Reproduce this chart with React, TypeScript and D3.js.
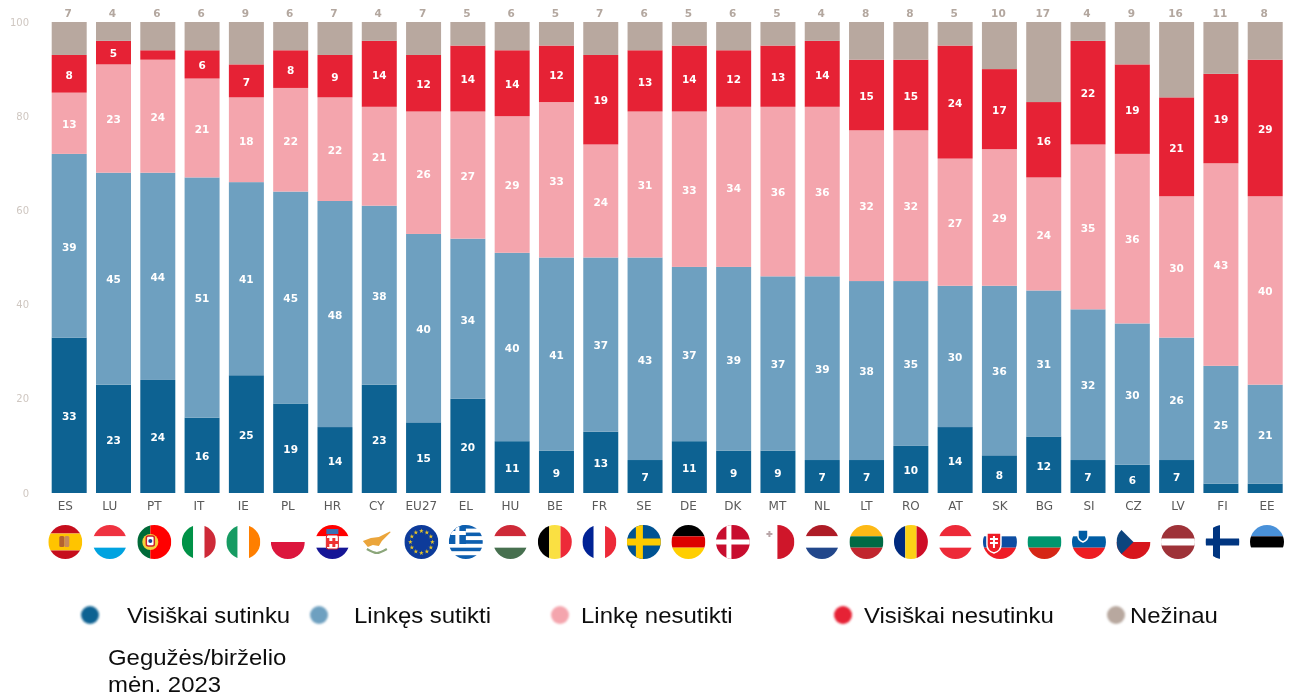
import React from "react";
import * as d3 from "d3";

const categories = ["ES","LU","PT","IT","IE","PL","HR","CY","EU27","EL","HU","BE","FR","SE","DE","DK","MT","NL","LT","RO","AT","SK","BG","SI","CZ","LV","FI","EE"];
const stronglyAgree = [33,23,24,16,25,19,14,23,15,20,11,9,13,7,11,9,9,7,7,10,14,8,12,7,6,7,2,2];
const tendAgree = [39,45,44,51,41,45,48,38,40,34,40,41,37,43,37,39,37,39,38,35,30,36,31,32,30,26,25,21];
const tendDisagree = [13,23,24,21,18,22,22,21,26,27,29,33,24,31,33,34,36,36,32,32,27,29,24,35,36,30,43,40];
const stronglyDisagree = [8,5,2,6,7,8,9,14,12,14,14,12,19,13,14,12,13,14,15,15,24,17,16,22,19,21,19,29];
const dontKnow = [7,4,6,6,9,6,7,4,7,5,6,5,7,6,5,6,5,4,8,8,5,10,17,4,9,16,11,8];
const seriesValues = [stronglyAgree, tendAgree, tendDisagree, stronglyDisagree, dontKnow];
const seriesColors = ["#0e6292","#6ea0c0","#f4a5ad","#e62134","#b8a89f"];
const legendLabels = ["Visiškai sutinku","Linkęs sutikti","Linkę nesutikti","Visiškai nesutinku","Nežinau"];
const legendDotX = [90,319,560,843,1116];
const legendTextX = [127,354,581,864,1130];
const yTicks = [0,20,40,60,80,100];
const noteLines = ["Gegužės/birželio","mėn. 2023"];

const hStripes: Record<string,string[]> = {
  LU:["#ef3340","#fff","#00a3e0"], HR:["#ff0000","#fff","#171796"], HU:["#ce2939","#fff","#477050"],
  DE:["#000","#dd0000","#ffce00"], NL:["#ae1c28","#fff","#21468b"], LT:["#fdb913","#006a44","#c1272d"],
  AT:["#ed2939","#fff","#ed2939"], SK:["#fff","#0b4ea2","#ee1c25"], BG:["#fff","#00966e","#d62612"],
  SI:["#fff","#005da4","#ed1c24"], EE:["#4891d9","#000","#fff"], PL:["#fff","#dc143c"], CZ:["#fff","#d7141a"],
  ES:["#c60b1e","#ffc400","#ffc400","#c60b1e"],
};
const vStripes: Record<string,string[]> = {
  IT:["#009246","#fff","#ce2b37"], IE:["#169b62","#fff","#ff7f00"], BE:["#000","#fae042","#ed2939"],
  FR:["#002395","#fff","#ed2939"], RO:["#002b7f","#fcd116","#ce1126"], MT:["#fff","#cf142b"],
};
const R = 17;

function Stripes({ colors, vertical }: { colors: string[]; vertical?: boolean }) {
  const s = d3.scaleBand<number>().domain(d3.range(colors.length)).range([-R, R]);
  return <>{colors.map((c, i) => vertical
    ? <rect key={i} x={s(i)} y={-R} width={s.bandwidth()} height={2*R} fill={c} />
    : <rect key={i} x={-R} y={s(i)} width={2*R} height={s.bandwidth()} fill={c} />)}</>;
}

function FlagArt({ code }: { code: string }) {
  if (code === "LV") return <><rect x={-R} y={-R} width={34} height={34} fill="#9e3039"/><rect x={-R} y={-3.5} width={34} height={7} fill="#fff"/></>;
  if (code === "PT") return <><rect x={-R} y={-R} width={13} height={34} fill="#046a38"/><rect x={-4} y={-R} width={21} height={34} fill="#ff0000"/><circle cx={-4} r={8} fill="#f6d13a"/><rect x={-8} y={-6} width={8} height={10} rx={2} fill="#fff" stroke="#d0202c" strokeWidth={1.5}/><circle cx={-4} cy={-1} r={2} fill="#1d3f94"/></>;
  if (code === "CY") return <><rect x={-R} y={-R} width={34} height={34} fill="#fff"/><path d="M-14,-1 L-6,-4 L2,-5 L8,-8 L16,-12 L9,-5 L5,-1 L2,4 L-4,3 L-9,5 Z" fill="#eba53a"/><path d="M-10,7 Q-3,11 0,11 M10,7 Q3,11 0,11" fill="none" stroke="#8ba67a" strokeWidth={2.2}/></>;
  if (code === "EU27") {
    const star = d3.symbol(d3.symbolStar, 7)() as string;
    return <><rect x={-R} y={-R} width={34} height={34} fill="#0a3a9a"/>{d3.range(12).map(i => <path key={i} d={star} fill="#e8c528" transform={`translate(${11*Math.cos(i*Math.PI/6)},${11*Math.sin(i*Math.PI/6)})`}/>)}</>;
  }
  if (code === "EL") return <><Stripes colors={["#0d5eaf","#fff","#0d5eaf","#fff","#0d5eaf","#fff","#0d5eaf","#fff","#0d5eaf"]}/><rect x={-R} y={-R} width={17} height={19} fill="#0d5eaf"/><rect x={-R} y={-11} width={17} height={4} fill="#fff"/><rect x={-10.5} y={-R} width={4} height={19} fill="#fff"/></>;
  if (code === "SE") return <><rect x={-R} y={-R} width={34} height={34} fill="#005293"/><rect x={-R} y={-3.5} width={34} height={7} fill="#fecb00"/><rect x={-8} y={-R} width={7} height={34} fill="#fecb00"/></>;
  if (code === "DK") return <><rect x={-R} y={-R} width={34} height={34} fill="#c8102e"/><rect x={-R} y={-2.5} width={34} height={5} fill="#fff"/><rect x={-6.5} y={-R} width={5} height={34} fill="#fff"/></>;
  if (code === "FI") return <><rect x={-R} y={-R} width={34} height={34} fill="#fff"/><rect x={-R} y={-3.5} width={34} height={7} fill="#003580"/><rect x={-9.5} y={-R} width={7} height={34} fill="#003580"/></>;
  if (hStripes[code]) {
    return <>
      <Stripes colors={hStripes[code]} />
      {code === "ES" && <><rect x={-6} y={-6} width={5} height={11} rx={1.5} fill="#b5622e"/><rect x={-1} y={-6} width={5} height={11} rx={1.5} fill="#c98a5a"/></>}
      {code === "HR" && <><rect x={-6} y={-13} width={12} height={5} fill="#3b6fb5"/><rect x={-6} y={-7} width={12} height={14} rx={2} fill="#fff" stroke="#d8202c"/><path d="M-6,-4H-3V-1H0V-4H3V-1H6V2H3V5H0V2H-3V5H-6Z" fill="#e33"/></>}
      {code === "SK" && <><path d="M-13,-9H1V3Q1,9 -6,11Q-13,9 -13,3Z" fill="#ee1c25" stroke="#fff" strokeWidth={1.5}/><path d="M-7,-6H-5V-4H-2V-2H-5V0H-2V2H-5V6H-7V2H-10V0H-7V-2H-10V-4H-7Z" fill="#fff"/></>}
      {code === "SI" && <><path d="M-11,-12H-1V-6Q-1,-2 -6,0Q-11,-2 -11,-6Z" fill="#005da4" stroke="#fff" strokeWidth={1.5}/></>}
      {code === "CZ" && <path d="M-17,-17L0,0L-17,17Z" fill="#11457e"/>}
    </>;
  }
  if (vStripes[code]) return <>
    <Stripes colors={vStripes[code]} vertical />
    {code === "MT" && <path d="M-11,-9H-9V-11H-7V-9H-5V-7H-7V-5H-9V-7H-11Z" fill="#b9a6a8"/>}
  </>;
  return null;
}

export default function App() {
  const x = d3.scaleBand<string>().domain(categories).range([51.7, 1282.7]).paddingInner(0.21).paddingOuter(0);
  const y = d3.scaleLinear().domain([0, 100]).range([493, 22]);
  const flagX = d3.scalePoint<string>().domain(categories).range([65.3, 1267]);
  const rows = categories.map((c, i) => {
    const r: any = { c };
    seriesValues.forEach((s, k) => { r[k] = s[i]; });
    return r;
  });
  const stack = d3.stack<any>().keys(d3.range(5).map(String))(rows);
  const sans = "'DejaVu Sans', sans-serif";
  const arial = "'Liberation Sans', Arial, sans-serif";
  return (
    <svg width={1290} height={697} style={{ position: "absolute", left: 0, top: 0, background: "#fff" }}>
      <defs>
        <filter id="soft" x="-2%" y="-2%" width="104%" height="104%"><feGaussianBlur stdDeviation={0.65} /></filter>
        <filter id="softer" x="-20%" y="-20%" width="140%" height="140%"><feGaussianBlur stdDeviation={1} /></filter>
        <filter id="faint" x="-2%" y="-2%" width="104%" height="104%"><feGaussianBlur stdDeviation={0.3} /></filter>
        <clipPath id="disc"><circle r={R} /></clipPath>
      </defs>
      <g filter="url(#soft)">
        {yTicks.map(t => (
          <text key={t} x={29} y={y(t)} dy="0.35em" textAnchor="end" fontFamily={sans} fontSize={10} fill="#cfc7c1">{t}</text>
        ))}
        {stack.map((layer, k) => (
          <g key={k}>
            {layer.map((d, i) => (
              <rect key={i} x={x(categories[i])} y={y(d[1])} width={x.bandwidth()} height={y(d[0]) - y(d[1])} fill={seriesColors[k]} />
            ))}
          </g>
        ))}
        {stack.slice(0, 4).map((layer, k) => (
          <g key={k}>
            {layer.map((d, i) => seriesValues[k][i] >= 3 ? (
              <text key={i} x={x(categories[i])! + x.bandwidth() / 2} y={y((d[0] + d[1]) / 2) + 1} dy="0.36em" textAnchor="middle"
                fontFamily={sans} fontWeight={700} fontSize={10.5} fill="#fff">{seriesValues[k][i]}</text>
            ) : null)}
          </g>
        ))}
        {categories.map((c, i) => (
          <text key={c} x={x(c)! + x.bandwidth() / 2 - 1} y={13} dy="0.36em" textAnchor="middle" fontFamily={sans} fontWeight={700} fontSize={10.5} fill="#b3a79f">{dontKnow[i]}</text>
        ))}
        {categories.map(c => (
          <text key={c} x={flagX(c)} y={506} dy="0.36em" textAnchor="middle" fontFamily={sans} fontSize={12} fill="#5a5a5a">{c}</text>
        ))}
        {categories.map(c => (
          <g key={c} transform={`translate(${flagX(c)},542)`}>
            <g clipPath="url(#disc)"><FlagArt code={c} /></g>
          </g>
        ))}
      </g>
      <g filter="url(#softer)">
        {legendDotX.map((cx, i) => <circle key={i} cx={cx} cy={615} r={9} fill={seriesColors[i]} />)}
      </g>
      <g filter="url(#faint)">
        {legendLabels.map((l, i) => (
          <text key={l} transform={`translate(${legendTextX[i]},623) scale(1.06,1)`} fontFamily={arial} fontSize={22.6} fill="#111">{l}</text>
        ))}
        {noteLines.map((l, i) => (
          <text key={l} transform={`translate(108,${665 + i * 27}) scale(1.06,1)`} fontFamily={arial} fontSize={22.6} fill="#111">{l}</text>
        ))}
      </g>
    </svg>
  );
}
